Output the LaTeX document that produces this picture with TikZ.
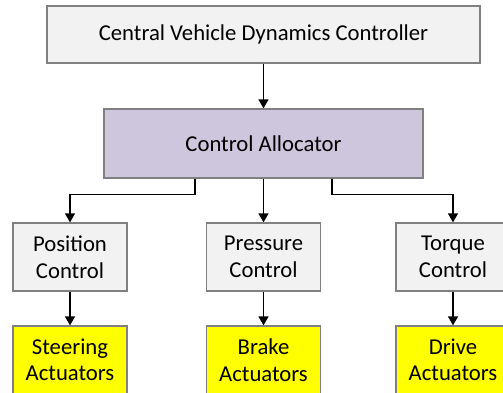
\documentclass[tikz,border=0pt]{standalone}
\usepackage{fontspec}
\setmainfont{Carlito}
\usetikzlibrary{arrows.meta}
\definecolor{boxgray}{RGB}{242,242,242}
\definecolor{edgegray}{RGB}{128,128,128}
\definecolor{capurple}{RGB}{206,198,221}
\definecolor{actyellow}{RGB}{255,255,0}
\tikzset{
  blk/.style={draw=edgegray, line width=1.3pt, fill=boxgray, align=center, inner sep=0pt,
    font=\fontsize{22.7}{26.5}\selectfont, text=black},
  ctl/.style={blk, minimum width=114pt, minimum height=68pt},
  act/.style={blk, fill=actyellow, minimum width=114pt, minimum height=68pt},
  arr/.style={draw=black, line width=1.3pt, -{Triangle[length=9pt,width=10pt]}},
}
\begin{document}
\begin{tikzpicture}[x=1pt,y=1pt]
\useasboundingbox (0,0) rectangle (503,-392);
\node[blk, minimum width=433pt, minimum height=57pt] (cvdc) at (263.5,-34.5) {Central Vehicle Dynamics Controller};
\node[blk, fill=capurple, minimum width=319pt, minimum height=69pt] (ca) at (263.5,-143.5) {Control Allocator};
\node[ctl] (pos) at (70,-257) {Position\\Control};
\node[ctl] (pre) at (263.5,-257) {Pressure\\Control};
\node[ctl] (tor) at (453,-257) {Torque\\Control};
\node[act] (ste) at (70,-360) {Steering\\Actuators};
\node[act] (bra) at (263.5,-360) {Brake\\Actuators};
\node[act] (dri) at (453,-360) {Drive\\Actuators};
\draw[arr] (cvdc.south) -- (ca.north);
\draw[arr] ([xshift=-68.5pt]ca.south) -- ++(0,-16) -| (pos.north);
\draw[arr] (ca.south) -- (pre.north);
\draw[arr] ([xshift=68.5pt]ca.south) -- ++(0,-16) -| (tor.north);
\draw[arr] (pos.south) -- (ste.north);
\draw[arr] (pre.south) -- (bra.north);
\draw[arr] (tor.south) -- (dri.north);
\end{tikzpicture}
\end{document}
